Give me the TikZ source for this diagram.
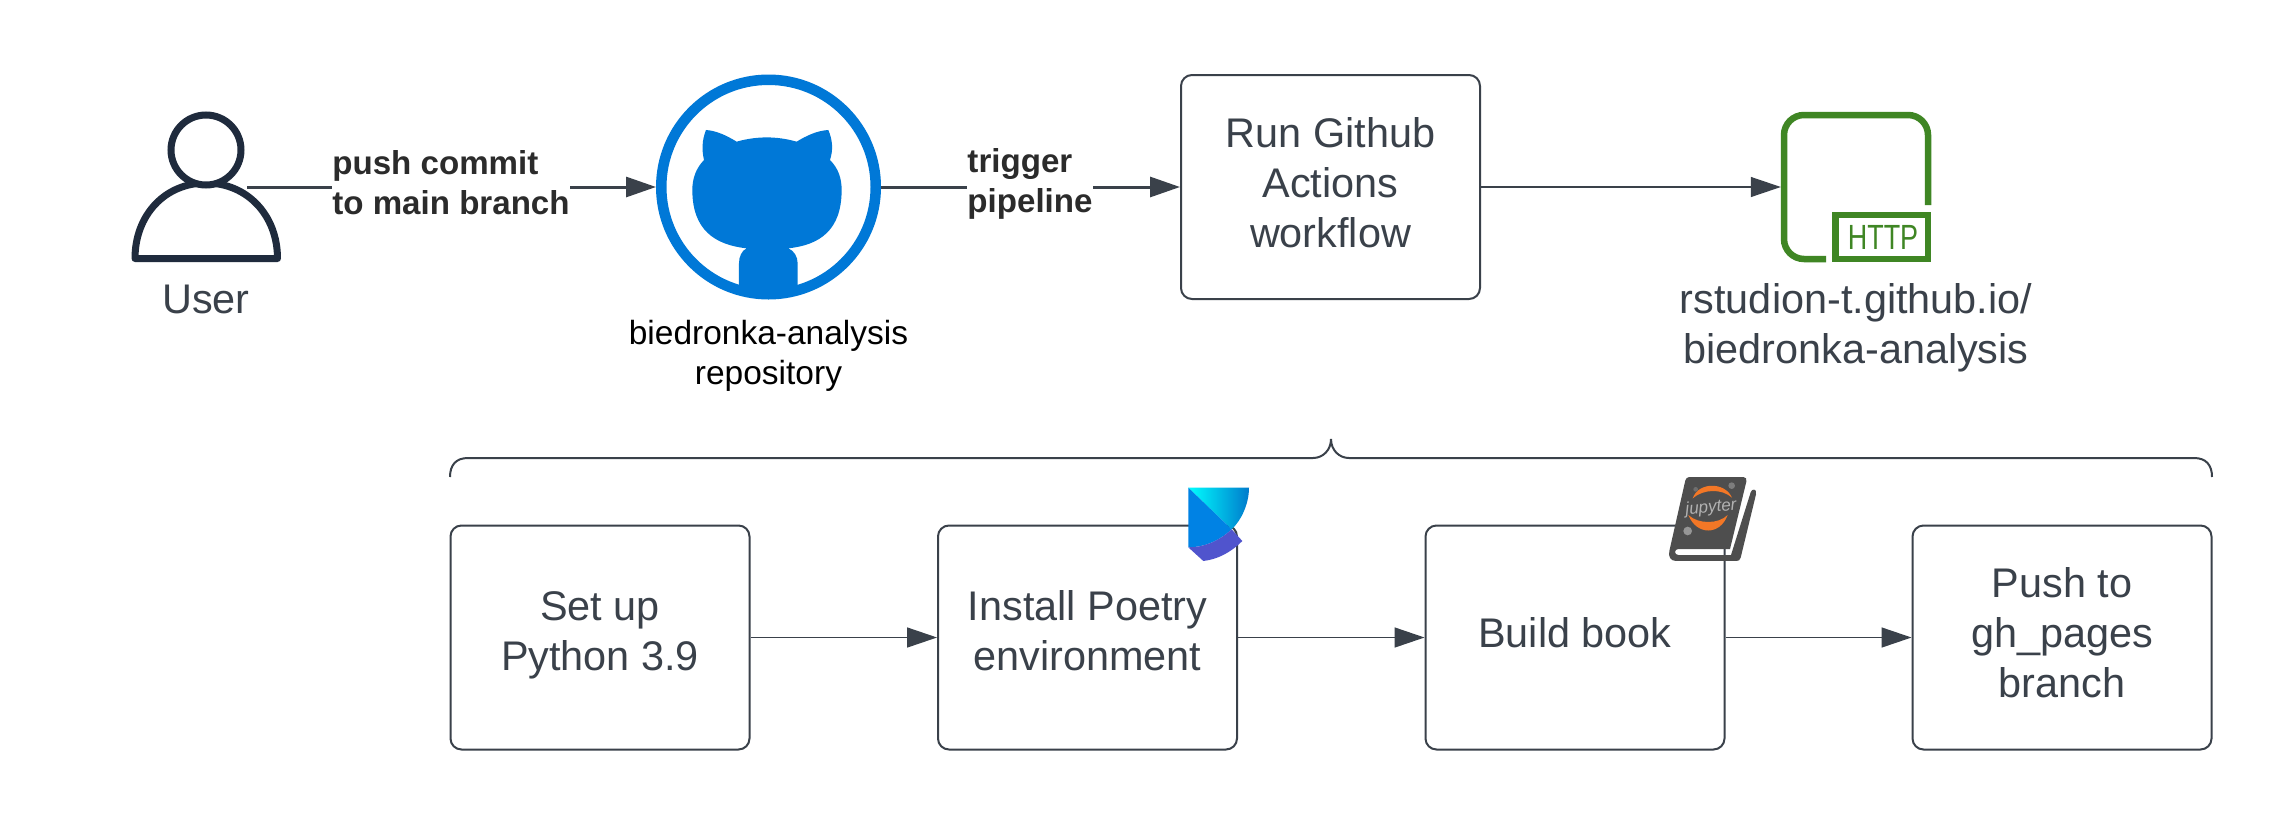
\documentclass[tikz,border=0pt]{standalone}
\usepackage{fontspec}
\setmainfont{Liberation Sans}
\usetikzlibrary{arrows.meta}
\definecolor{ink}{HTML}{3A414A}
\definecolor{usercol}{HTML}{1F2B3D}
\definecolor{ghblue}{HTML}{0078D7}
\definecolor{httpgreen}{HTML}{3F8624}
\definecolor{boldtxt}{HTML}{2B2B2B}
\definecolor{bookgrey}{HTML}{4E4E4E}
\definecolor{juporange}{HTML}{F37726}
\newcommand\lowstrut{\rule[-20pt]{0pt}{20pt}}
\tikzset{
  x=1pt,y=-1pt,
  flowbox/.style={draw=ink,line width=2pt,rounded corners=11pt,fill=white,align=center,text=ink,
    minimum width=299pt,minimum height=224pt,inner sep=0pt,
    font=\fontsize{41.4}{50}\selectfont},
  biglabel/.style={text=ink,align=center,inner sep=0pt,font=\fontsize{41.4}{50}\selectfont},
  replabel/.style={text=black,align=center,inner sep=0pt,font=\fontsize{33.5}{40}\selectfont},
  edgelabel/.style={text=boldtxt,align=left,inner sep=0pt,fill=white,font=\bfseries\fontsize{33.1}{40}\selectfont},
  thinarrow/.style={draw=ink,line width=1.5pt,-{Triangle[length=30pt,width=20pt]}},
  thickarrow/.style={draw=ink,line width=3pt,-{Triangle[length=30pt,width=20pt]}},
}
\begin{document}
\begin{tikzpicture}
\useasboundingbox (0,0) rectangle (2288,825);
\fill[white] (0,0) rectangle (2288,825);

% boxes
\node[flowbox] (run) at (1330.5,187) {\strut Run Github\\Actions\\workflow\strut};
\node[flowbox] (setup) at (600,637.5) {\strut Set up\\Python 3.9\lowstrut};
\node[flowbox] (poetry) at (1087.5,637.5) {\strut Install Poetry\\environment\lowstrut};
\node[flowbox] (build) at (1575,637.5) {\strut Build book\strut};
\node[flowbox] (push) at (2062,637.5) {\strut Push to\\gh\_pages\\branch\strut};

% brace
\coordinate (braceL) at (450,477);
\coordinate (braceR) at (2212,477);
\draw[ink,line width=2pt] (braceL) .. controls (450,465) and (456,458) .. (468,458)
  -- (1313,458) .. controls (1323,458) and (1331,450) .. (1331,439)
  .. controls (1331,450) and (1339,458) .. (1349,458)
  -- (2194,458) .. controls (2206,458) and (2212,465) .. (braceR);

% user icon
\node[draw=none,minimum width=150pt,minimum height=150pt,inner sep=0pt] (user) at (206,187) {};
\coordinate (userR) at (247,187);
\draw[usercol,line width=7pt,line join=round,fill=white]
  (135,258.5) .. controls (135,215) and (165,183) .. (206,183)
  .. controls (247,183) and (277.5,215) .. (277.5,258.5) -- cycle;
\draw[usercol,line width=7pt,fill=white] (206,150) circle (35);
\node[biglabel] (userlabel) at (206,299) {User};

% github
\node[circle,draw=ghblue,line width=10.5pt,minimum size=214.5pt,inner sep=0pt] (repo) at (768.5,187) {};
\begin{scope}[shift={(640,60)},scale=0.3333]
\fill[ghblue] (198,210) .. controls (230,212) and (262,228) .. (290,245)
  .. controls (350,228) and (410,228) .. (470,245)
  .. controls (498,228) and (530,212) .. (565,210)
  .. controls (578,240) and (580,270) .. (570,300)
  .. controls (595,325) and (605,355) .. (605,390)
  .. controls (605,510) and (540,555) .. (445,565)
  .. controls (462,572) and (473,590) .. (473,610)
  -- (473,692) -- (297,692) -- (297,610)
  .. controls (297,590) and (305,572) .. (320,565)
  .. controls (225,555) and (157,510) .. (157,390)
  .. controls (157,355) and (168,325) .. (192,300)
  .. controls (185,270) and (186,240) .. (198,210) -- cycle;
\end{scope}
\node[replabel] (repolabel) at (768.5,356) {biedronka-analysis\\repository};

% http icon
\node[minimum size=150pt,inner sep=0pt] (http) at (1856,187) {};
\draw[httpgreen,line width=6.5pt,rounded corners=20pt] (1826,259) -- (1784,259) -- (1784,115) -- (1928,115) -- (1928,205);
\draw[httpgreen,line width=6.5pt] (1835.5,215) rectangle (1928,259);
\node[text=httpgreen,inner sep=0pt,xscale=0.77,transform shape,font=\fontsize{35}{35}\selectfont] (httptxt) at (1883,237) {HTTP};
\node[biglabel] (httplabel) at (1856,328) {rstudion-t.github.io/\\biedronka-analysis};

% edges
\draw[thickarrow] (userR) -- (repo.west);
\node[edgelabel] (pushlabel) at (451,183) {push commit\\to main branch};
\draw[thickarrow] (repo.east) -- (run.west);
\node[edgelabel] (triglabel) at (1030,184) {trigger\\pipeline};
\draw[thinarrow,line width=1.2pt] (run.east) -- (http.west);
\draw[thinarrow] (setup.east) -- (poetry.west);
\draw[thinarrow] (poetry.east) -- (build.west);
\draw[thinarrow] (build.east) -- (push.west);

% poetry icon
\begin{scope}[shift={(1160,470)},scale=0.3333]
\shade[left color=cyan,right color=cyan!60!blue!80!black,draw=none]
  (85,53) -- (267,53) .. controls (267,100) and (245,150) .. (215,178) -- cycle;
\fill[color={rgb,255:red,0;green,130;blue,228}] (85,53) -- (215,178) .. controls (175,215) and (130,232) .. (85,232) -- cycle;
\fill[color={rgb,255:red,80;green,84;blue,205}] (85,232) .. controls (130,232) and (175,215) .. (215,178)
  -- (247,213) .. controls (215,245) and (175,268) .. (130,273) -- cycle;
\end{scope}

% jupyter icon
\begin{scope}[shift={(1650,465)},scale=0.3333]
\fill[bookgrey] (118,36) -- (280,36) .. controls (288,36) and (291,42) .. (289,50)
  -- (240,252) -- (85,252) .. controls (72,252) and (72,270) .. (85,270)
  -- (243,270) -- (302,82) .. controls (305,70) and (322,70) .. (318,88)
  -- (272,278) .. controls (270,285) and (266,288) .. (260,288)
  -- (78,288) .. controls (62,288) and (54,275) .. (58,258)
  -- (106,46) .. controls (108,40) and (112,36) .. (118,36) -- cycle;
\fill[juporange] (128,100) .. controls (145,50) and (225,50) .. (246,98)
  .. controls (215,70) and (160,72) .. (128,100) -- cycle;
\fill[juporange] (115,150) .. controls (140,212) and (210,212) .. (233,150)
  .. controls (205,178) and (145,178) .. (115,150) -- cycle;
\fill[color={rgb,255:red,110;green,110;blue,110}] (137,73) circle (7);
\fill[color={rgb,255:red,125;green,125;blue,125}] (245,62) circle (10);
\fill[color={rgb,255:red,150;green,150;blue,150}] (113,198) circle (13);
\end{scope}
\node[rotate=5,text=black!30,inner sep=0pt,font=\itshape\fontsize{17}{17}\selectfont] (juptxt) at (1711,508) {jupyter};
\end{tikzpicture}
\end{document}
